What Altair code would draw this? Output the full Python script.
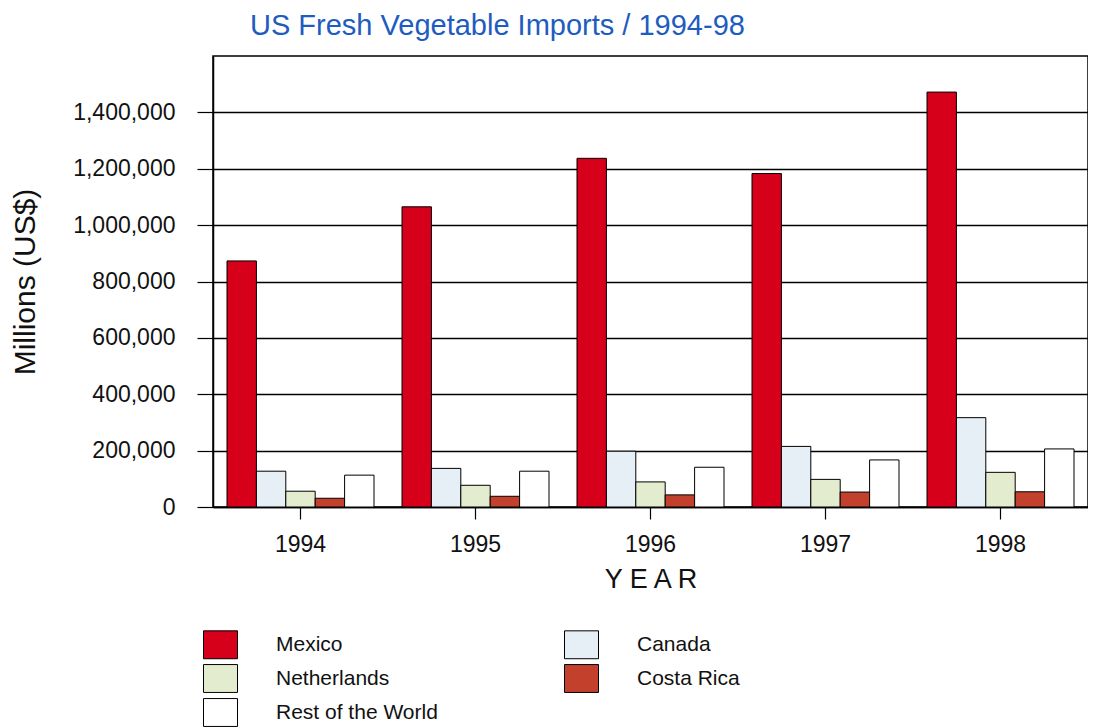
import altair as alt
import pandas as pd

years = ["1994", "1995", "1996", "1997", "1998"]
countries = ["Mexico", "Canada", "Netherlands", "Costa Rica", "Rest of the World"]
mexico = [873000, 1065000, 1237000, 1183000, 1472000]
canada = [127000, 137000, 198000, 215000, 317000]
netherlands = [56000, 77000, 89000, 98000, 123000]
costa_rica = [31000, 38000, 43000, 53000, 54000]
rest_world = [113000, 127000, 141000, 167000, 206000]
colors = ["#d7001b", "#e6eef6", "#e4ecd0", "#c2402c", "#ffffff"]
y_ticks = [0, 200000, 400000, 600000, 800000, 1000000, 1200000, 1400000]

series = [mexico, canada, netherlands, costa_rica, rest_world]
rows = []
for c, vals in zip(countries, series):
    for y, v in zip(years, vals):
        rows.append({"Year": y, "Country": c, "Value": v})
df = pd.DataFrame(rows)

FONT = "Liberation Sans"

chart = alt.Chart(df).mark_bar(stroke="black", strokeWidth=1).encode(
    x=alt.X("Year:N", sort=years,
            scale=alt.Scale(paddingInner=0.16, paddingOuter=0.08),
            axis=alt.Axis(title="Y E A R", labelAngle=0, labelFontSize=23,
                          labelFont=FONT, labelColor="#111", labelPadding=14,
                          tickSize=12, tickColor="black", tickWidth=1.2,
                          domainColor="black", domainWidth=1.5,
                          titleFontSize=27, titleFont=FONT, titleFontWeight="normal",
                          titleColor="#111", titlePadding=10, grid=False)),
    xOffset=alt.XOffset("Country:N", sort=countries,
                        scale=alt.Scale(paddingInner=0, paddingOuter=0)),
    y=alt.Y("Value:Q",
            scale=alt.Scale(domain=[0, 1600000], nice=False),
            axis=alt.Axis(title="Millions (US$)", values=y_ticks, format=",d",
                          labelFontSize=23, labelFont=FONT, labelColor="#111",
                          labelPadding=22, tickSize=16, tickColor="black", tickWidth=1.2,
                          domainColor="black", domainWidth=1.5,
                          gridColor="black", gridWidth=1.3, gridOpacity=1,
                          titleFontSize=30, titleFont=FONT, titleFontWeight="normal",
                          titleColor="#111", titlePadding=32)),
    fill=alt.Fill("Country:N", sort=countries,
                  scale=alt.Scale(domain=countries, range=colors),
                  legend=alt.Legend(title=None, orient="none", legendX=-10, legendY=571,
                                    columns=2, direction="horizontal",
                                    symbolType="M-1,-0.82H1V0.82H-1Z", symbolSize=1156,
                                    symbolStrokeColor="black", symbolStrokeWidth=1,
                                    labelFontSize=21, labelFont=FONT, labelColor="#111",
                                    labelOffset=38, labelLimit=400, rowPadding=0,
                                    columnPadding=124, padding=0)),
).properties(
    width=875,
    height=451,
    title=alt.TitleParams("US Fresh Vegetable Imports / 1994-98", anchor="start",
                          frame="group", dx=37, offset=15, fontSize=29, font=FONT,
                          fontWeight="normal", color="#1e5cc0"),
    autosize=alt.AutoSizeParams(type="none"),
    padding={"left": 205, "top": 48, "right": 0, "bottom": 222},
).configure_view(stroke="black", strokeWidth=1.5)

chart.save("out.html", embed_options={"renderer": "svg", "actions": False})
